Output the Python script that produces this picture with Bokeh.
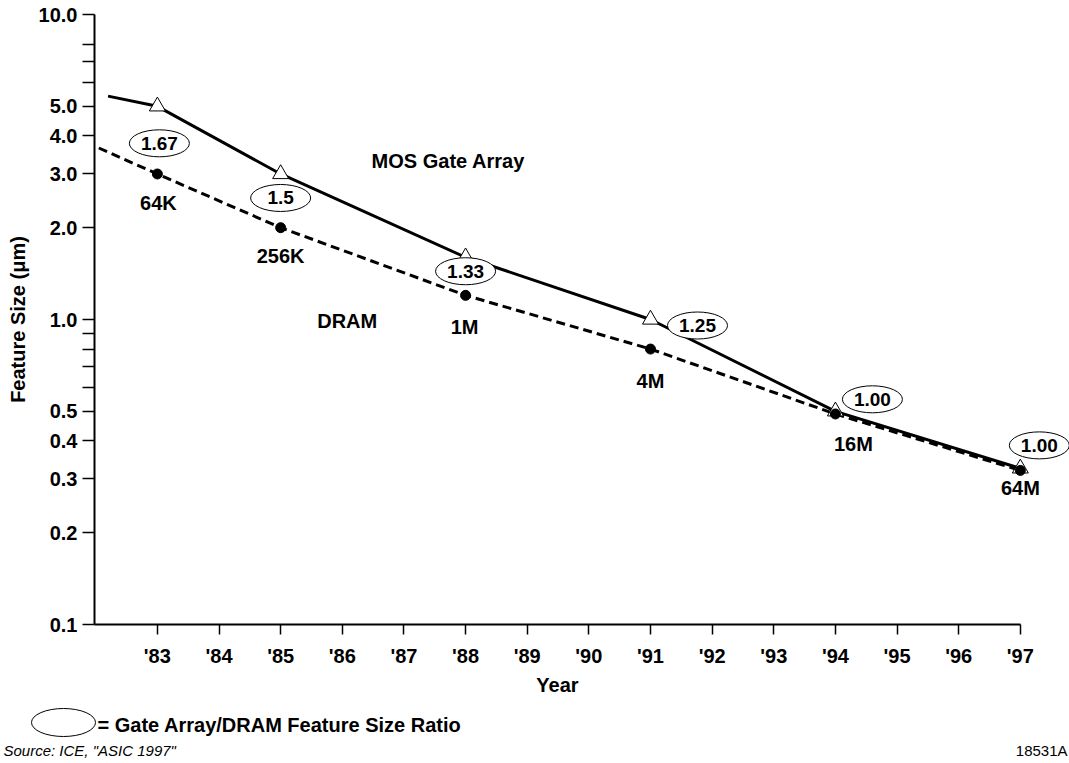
from bokeh.plotting import figure
from bokeh.models import Range1d, FixedTicker
from bokeh.core.properties import value
from bokeh.embed import file_html
from bokeh.resources import INLINE

# ---------------- data ----------------
years = [83, 85, 88, 91, 94, 97]
gate_array = [5.0, 3.0, 1.6, 1.0, 0.5, 0.325]
dram = [3.0, 2.0, 1.2, 0.8, 0.49, 0.32]
ga_start = (82.2, 5.4)
dram_start = (82.05, 3.65)
ratio_labels = ["1.67", "1.5", "1.33", "1.25", "1.00", "1.00"]
dram_labels = ["64K", "256K", "1M", "4M", "16M", "64M"]
x_ticks = list(range(83, 98))
x_tick_labels = ["'83", "'84", "'85", "'86", "'87", "'88", "'89", "'90",
                 "'91", "'92", "'93", "'94", "'95", "'96", "'97"]
y_ticks = [0.1, 0.2, 0.3, 0.4, 0.5, 1, 2, 3, 4, 5, 10]
y_tick_labels = ["0.1", "0.2", "0.3", "0.4", "0.5", "1.0", "2.0", "3.0",
                 "4.0", "5.0", "10.0"]
y_minor_ticks = [0.6, 0.7, 0.8, 0.9, 6, 7, 8]

# ---------------- layout / style ----------------
FONT = value("Liberation Sans")
W, H = 1069, 760
AX_X = 94          # canvas x of the y axis line
AX_TOP = 14        # canvas y of the value 10
X0, X_END = 81.98, 97.0
PPY = 61.64        # pixels per year
PPD = 305.0        # pixels per decade
XS = X0 - AX_X / PPY
XE = X0 + (W - AX_X) / PPY
YT = 10 ** (1 + AX_TOP / PPD)
YB = 10 ** (1 - (H - AX_TOP) / PPD)

def shift(x, y, dx, dy):
    return x + dx / PPY, y * 10 ** (-dy / PPD)

def at(cx, cy):
    return XS + cx / PPY, 10 ** (1 - (cy - AX_TOP) / PPD)

ratio_offsets = [(2, 37), (0, 24), (0, 14), (47, 6), (37, -12), (19, -23)]
dram_label_offsets = [(1, 29), (0, 28), (-1, 32), (0, 32), (18, 30), (0, 18)]
series_labels = [("MOS Gate Array", 87.72, 3.31), ("DRAM", 86.08, 0.99)]

p = figure(width=W, height=H, x_range=Range1d(XS, XE),
           y_range=Range1d(YB, YT), y_axis_type="log",
           toolbar_location=None, output_backend="svg",
           min_border=0, min_border_left=0, min_border_right=0,
           min_border_top=0, min_border_bottom=0)
p.outline_line_color = None
p.grid.visible = False
p.background_fill_color = "white"
p.border_fill_color = "white"

# x axis
xa = p.xaxis[0]
xa.ticker = FixedTicker(ticks=x_ticks)
xa.major_label_overrides = dict(zip(x_ticks, x_tick_labels))
xa.bounds = (X0, X_END)
xa.fixed_location = 0.1
xa.axis_label = "Year"

# y axis
ya = p.yaxis[0]
ya.ticker = FixedTicker(ticks=y_ticks, minor_ticks=y_minor_ticks)
ya.major_label_overrides = dict(zip(y_ticks, y_tick_labels))
ya.bounds = (0.1, 10)
ya.fixed_location = X0
ya.axis_label = "Feature Size (\u03bcm)"

for ax in (xa, ya):
    ax.axis_line_color = "black"
    ax.axis_line_width = 2
    ax.major_tick_line_color = "black"
    ax.major_tick_line_width = 1.5
    ax.minor_tick_line_color = "black"
    ax.minor_tick_line_width = 1.5
    ax.major_tick_in = 0
    ax.minor_tick_in = 0
    ax.major_label_text_font = "Liberation Sans"
    ax.major_label_text_font_style = "bold"
    ax.major_label_text_font_size = "20px"
    ax.major_label_text_color = "black"
    ax.axis_label_text_font = "Liberation Sans"
    ax.axis_label_text_font_style = "bold"
    ax.axis_label_text_font_size = "20px"
    ax.axis_label_text_color = "black"

xa.major_tick_out = 10
xa.minor_tick_out = 0
xa.major_label_standoff = 10
xa.axis_label_standoff = 4
ya.major_tick_out = 12
ya.minor_tick_out = 12
ya.major_label_standoff = 5
ya.axis_label_standoff = 7

# lines
p.line([ga_start[0]] + years, [ga_start[1]] + gate_array,
       line_color="black", line_width=3)
p.line([dram_start[0]] + years, [dram_start[1]] + dram,
       line_color="black", line_width=3, line_dash="9 5")

# markers
p.scatter(years, gate_array, marker="triangle", size=16,
          fill_color="white", line_color="black", line_width=1)
p.scatter(years, dram, marker="circle", size=10,
          fill_color="black", line_color="black")

# ratio ellipses
rx, ry = [], []
for (yr, v), (dx, dy) in zip(zip(years, gate_array), ratio_offsets):
    a, b = shift(yr, v, dx, dy)
    rx.append(a); ry.append(b)
p.ellipse(rx, ry, width=60, height=27, width_units="screen",
          height_units="screen", fill_color="white", line_color="black",
          line_width=1)
p.text(rx, ry, text=ratio_labels, text_font=FONT, text_font_style="bold",
       text_font_size="19px", text_align="center", text_baseline="middle",
       text_color="black")

# DRAM density labels
lx, ly = [], []
for (yr, v), (dx, dy) in zip(zip(years, dram), dram_label_offsets):
    a, b = shift(yr, v, dx, dy)
    lx.append(a); ly.append(b)
p.text(lx, ly, text=dram_labels, text_font=FONT, text_font_style="bold",
       text_font_size="20px", text_align="center", text_baseline="middle",
       text_color="black")

# series labels
p.text([s[1] for s in series_labels], [s[2] for s in series_labels],
       text=[s[0] for s in series_labels], text_font=FONT,
       text_font_style="bold", text_font_size="20px", text_align="center",
       text_baseline="middle", text_color="black")

# ---------------- legend + source (below the axis) ----------------
ex, ey = at(63, 722)
p.ellipse([ex], [ey], width=64, height=28, width_units="screen",
          height_units="screen", fill_color="white", line_color="black",
          line_width=1)
tx, ty = at(97, 724)
p.text([tx], [ty], text=["= Gate Array/DRAM Feature Size Ratio"],
       text_font=FONT, text_font_style="bold", text_font_size="20px",
       text_align="left", text_baseline="middle", text_color="black")
sx, sy = at(3, 750)
p.text([sx], [sy], text=['Source:  ICE, "ASIC 1997"'], text_font=FONT,
       text_font_style="italic", text_font_size="15px", text_align="left",
       text_baseline="middle", text_color="black")
nx, ny = at(1067, 750)
p.text([nx], [ny], text=["18531A"], text_font=FONT,
       text_font_size="15px", text_align="right",
       text_baseline="middle", text_color="black")

open("out.html", "w").write(file_html(p, INLINE))
